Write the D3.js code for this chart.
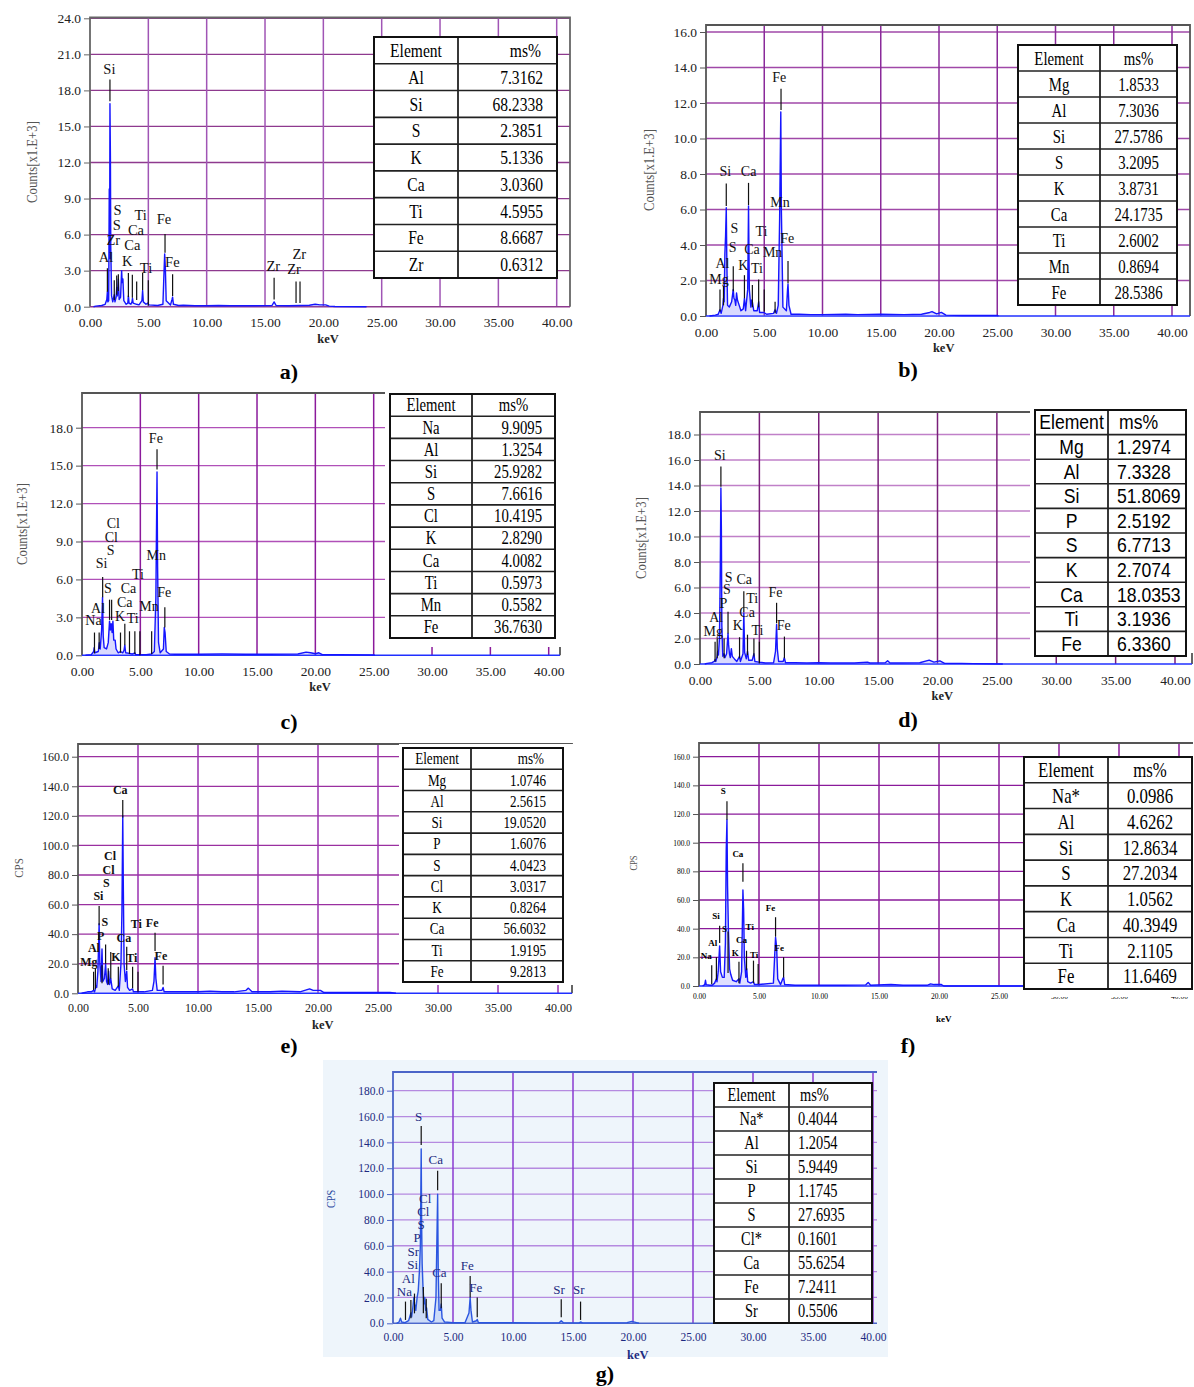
<!DOCTYPE html>
<html><head><meta charset="utf-8">
<script src="https://cdn.jsdelivr.net/npm/d3@7"></script>
<style>body{margin:0;background:#fff}svg{display:block}</style>
</head><body>
<svg id="c" width="1194" height="1387"></svg>
<script>
// ---------------- DATA ----------------
const xTicks = [0,5,10,15,20,25,30,35,40];

// Panel a (counts x1E+3)
const yTicksA = [0,3,6,9,12,15,18,21,24];
const specA = [[0.3,0],[0.5,0.05],[1.0,0.1],[1.3,0.2],[1.44,0.6],[1.49,1.25],[1.53,0.4],[1.6,0.5],[1.65,9.8],[1.68,4],[1.71,16.9],[1.75,12.4],[1.78,5],[1.85,0.9],[1.95,0.4],[2.08,1.0],[2.14,0.4],[2.24,0.8],[2.29,1.6],[2.35,0.9],[2.43,2.3],[2.5,0.6],[2.62,0.8],[2.71,3.0],[2.76,2.0],[2.82,2.3],[2.9,0.5],[3.1,0.2],[3.24,0.3],[3.29,0.9],[3.35,0.3],[3.5,0.2],[3.6,0.4],[3.64,0.7],[3.7,0.3],[4.0,0.2],[4.2,0.15],[4.45,0.5],[4.51,1.35],[4.57,0.4],[4.8,0.2],[4.95,0.3],[5.05,0.15],[5.8,0.1],[6.25,0.2],[6.33,2.5],[6.4,4.4],[6.46,3.2],[6.53,0.5],[6.9,0.15],[7.03,0.6],[7.08,0.8],[7.15,0.2],[7.6,0.1],[8.0,0.12],[9,0.08],[10,0.08],[11,0.1],[12,0.08],[14,0.08],[15.6,0.1],[15.78,0.4],[15.95,0.1],[17,0.08],[18,0.1],[18.8,0.12],[19.3,0.2],[19.7,0.15],[20.2,0.15],[20.5,0.05],[21,0.02],[23.7,0]];
const labelsA = [["Si",1.66,19.4],["S",2.37,7.6],["S",2.29,6.4],["Zr",2.0,5.1],["Ti",4.34,7.2],["Ca",3.94,6.0],["Ca",3.63,4.7],["Fe",6.34,6.9],["Al",1.37,3.7],["K",3.2,3.4],["Ti",4.8,2.8],["Fe",7.06,3.3],["Zr",15.71,3.0],["Zr",17.94,4.0],["Zr",17.49,2.7]];
const markersA = [[1.49,1.25,3.2],[1.71,17.1,18.9],[2.08,0.55,2.2],[2.29,1.0,2.6],[2.43,1.3,2.7],[3.29,0.8,2.8],[3.63,0.75,2.65],[4.0,0.55,2.1],[4.51,1.4,2.8],[5.0,0.1,2.2],[6.43,4.5,6.05],[7.08,0.9,2.7],[15.78,0.6,2.4],[17.66,0.3,2.1],[18.0,0.3,2.1]];
const elemsA = ["Al","Si","S","K","Ca","Ti","Fe","Zr"];
const valsA = ["7.3162","68.2338","2.3851","5.1336","3.0360","4.5955","8.6687","0.6312"];

// Panel b
const yTicksB = [0,2,4,6,8,10,12,14,16];
const specB = [[0.3,0],[0.8,0.05],[1.05,0.1],[1.2,0.35],[1.3,0.15],[1.45,0.6],[1.5,1.0],[1.56,0.8],[1.62,3.5],[1.68,4.5],[1.74,6.1],[1.79,3],[1.85,0.6],[2.0,0.5],[2.2,0.8],[2.34,1.5],[2.4,1.0],[2.48,0.9],[2.55,0.6],[2.62,1.3],[2.7,0.9],[2.85,0.6],[3.0,0.3],[3.2,0.4],[3.3,1.0],[3.4,0.3],[3.58,1.5],[3.65,6.2],[3.72,1.5],[3.85,0.5],[3.93,0.9],[3.98,0.8],[4.1,0.3],[4.4,0.3],[4.52,0.8],[4.6,0.2],[4.95,0.2],[5.2,0.1],[5.8,0.15],[5.93,0.35],[6.05,0.15],[6.2,0.6],[6.32,5.5],[6.42,11.5],[6.47,6.0],[6.53,3.5],[6.6,0.5],[6.9,0.3],[7.0,1.5],[7.04,1.8],[7.12,0.6],[7.3,0.1],[8,0.1],[9,0.08],[10,0.08],[12,0.1],[13,0.08],[15,0.1],[17,0.08],[18.5,0.1],[19.2,0.2],[19.4,0.25],[19.8,0.12],[20.2,0.2],[20.6,0.05],[22,0.03],[25.0,0.03],[25.1,0]];
const labelsB = [["Fe",6.29,13.2],["Si",1.65,7.9],["Ca",3.66,7.9],["Mn",6.35,6.15],["S",2.43,4.7],["Ti",4.76,4.5],["Fe",6.98,4.1],["S",2.28,3.6],["Ca",3.95,3.5],["Mn",5.72,3.3],["Al",1.41,2.7],["K",3.2,2.6],["Ti",4.37,2.45],["Mg",1.11,1.8]];
const markersB = [[6.44,11.6,12.8],[1.74,6.2,7.47],[3.65,6.25,7.5],[2.34,1.4,2.8],[3.3,1.0,2.3],[3.98,0.5,1.75],[4.52,0.5,2.06],[5.0,0.25,1.5],[5.93,0.15,0.8],[7.04,1.85,3.1],[1.2,0.25,1.5],[1.5,0.6,1.7]];
const elemsB = ["Mg","Al","Si","S","K","Ca","Ti","Mn","Fe"];
const valsB = ["1.8533","7.3036","27.5786","3.2095","3.8731","24.1735","2.6002","0.8694","28.5386"];

// Panel c
const yTicksC = [0,3,6,9,12,15,18];
const specC = [[0.3,0],[0.8,0.05],[1.0,0.3],[1.04,0.6],[1.1,0.2],[1.4,0.3],[1.48,1.0],[1.56,0.5],[1.68,2.0],[1.76,4.6],[1.82,1.5],[1.9,0.6],[2.1,0.5],[2.25,1.0],[2.36,2.7],[2.43,2.0],[2.5,2.5],[2.58,1.8],[2.65,2.7],[2.72,1.2],[2.84,1.2],[2.92,0.5],[3.1,0.2],[3.3,0.3],[3.5,0.2],[3.6,0.4],[3.67,0.8],[3.74,0.2],[4.05,0.15],[4.3,0.1],[4.53,0.2],[4.6,0.05],[5.5,0.05],[5.97,0.1],[6.2,0.3],[6.33,4.5],[6.43,14.5],[6.48,7.0],[6.56,1.0],[6.7,0.2],[6.98,0.5],[7.05,2.2],[7.12,1.8],[7.22,0.3],[7.5,0.1],[8,0.08],[10,0.08],[12,0.1],[14,0.08],[16,0.08],[18.5,0.1],[19.2,0.25],[19.6,0.2],[20.0,0.12],[20.3,0.2],[20.6,0.05],[22,0.05],[25,0.02],[25.1,0]];
const labelsC = [["Fe",6.33,16.8],["Cl",2.69,10.1],["Cl",2.51,9.0],["S",2.45,7.9],["Si",1.68,6.9],["Mn",6.36,7.5],["Ti",4.8,6.0],["S",2.23,4.9],["Ca",3.98,4.9],["Fe",7.04,4.64],["Al",1.38,3.37],["Ca",3.67,3.8],["Mn",5.75,3.53],["Na",0.98,2.4],["K",3.27,2.7],["Ti",4.35,2.53]];
const markersC = [[6.43,14.7,16.3],[1.77,4.6,6.2],[2.36,2.8,4.4],[2.54,2.8,4.4],[1.07,0.15,1.8],[1.47,0.5,1.8],[3.3,0.2,1.8],[3.67,0.8,2.5],[4.07,0.1,1.9],[4.53,0.1,1.9],[4.96,0,1.9],[5.97,0.1,1.9],[7.1,2.2,3.8]];
const elemsC = ["Na","Al","Si","S","Cl","K","Ca","Ti","Mn","Fe"];
const valsC = ["9.9095","1.3254","25.9282","7.6616","10.4195","2.8290","4.0082","0.5973","0.5582","36.7630"];

// Panel d
const yTicksD = [0,2,4,6,8,10,12,14,16,18];
const specD = [[0.4,0],[0.6,0.05],[1.0,0.1],[1.2,0.2],[1.27,0.35],[1.33,0.2],[1.45,0.6],[1.49,1.0],[1.55,0.7],[1.64,2.0],[1.71,7.6],[1.76,13.8],[1.8,10.6],[1.84,3],[1.92,0.6],[2.03,0.8],[2.1,0.5],[2.24,0.8],[2.36,2.4],[2.41,1.5],[2.48,0.8],[2.55,0.5],[2.64,1.2],[2.72,0.6],[2.9,0.4],[3.1,0.2],[3.33,0.6],[3.4,0.2],[3.62,0.8],[3.69,4.0],[3.76,0.9],[3.9,0.4],[4.0,1.0],[4.1,0.3],[4.4,0.3],[4.54,0.8],[4.62,0.2],[4.95,0.15],[5.5,0.08],[6.2,0.1],[6.36,1.0],[6.45,3.1],[6.51,1.2],[6.62,0.2],[7.0,0.2],[7.1,0.5],[7.2,0.1],[8,0.1],[9,0.08],[10,0.1],[11,0.08],[12,0.08],[13,0.08],[14.1,0.15],[14.3,0.08],[15.6,0.1],[15.8,0.25],[16.0,0.08],[17,0.08],[18.5,0.1],[19.3,0.3],[19.7,0.15],[20.2,0.25],[20.6,0.05],[22,0.05],[23,0.03],[25.5,0]];
const labelsD = [["Si",1.67,16.0],["S",2.42,6.47],["Ca",3.72,6.26],["S",2.27,5.48],["Ti",4.39,4.77],["Fe",6.36,5.29],["P",1.97,4.43],["Ca",3.97,3.67],["Al",1.36,3.33],["Fe",7.05,2.67],["K",3.18,2.67],["Mg",1.12,2.23],["Ti",4.84,2.28]];
const markersD = [[1.76,13.9,15.5],[6.45,3.2,4.8],[2.36,2.4,4.1],[3.69,4.06,5.7],[1.27,0.2,1.75],[1.45,0.45,2.0],[2.03,0.45,2.0],[3.33,0.45,2.1],[4.0,0.7,2.3],[4.54,0.58,2.0],[5.0,0.05,1.75],[7.11,0.45,2.15]];
const elemsD = ["Mg","Al","Si","P","S","K","Ca","Ti","Fe"];
const valsD = ["1.2974","7.3328","51.8069","2.5192","6.7713","2.7074","18.0353","3.1936","6.3360"];

// Panel e (CPS)
const yTicksE = [0,20,40,60,80,100,120,140,160];
const specE = [[0.3,0],[0.8,1],[1.1,1],[1.3,2],[1.38,1],[1.45,3],[1.5,5],[1.56,4],[1.66,15],[1.76,47],[1.82,20],[1.92,8],[2.0,30],[2.07,8],[2.2,10],[2.3,20],[2.38,8],[2.47,6],[2.55,15],[2.63,6],[2.73,10],[2.85,3],[3.1,2],[3.36,5],[3.44,2],[3.58,20],[3.66,55],[3.73,120],[3.78,70],[3.84,20],[3.95,8],[4.06,15],[4.13,4],[4.3,2],[4.55,3],[4.62,1],[4.95,1],[5.5,1],[6.2,2],[6.33,8],[6.42,24],[6.49,10],[6.6,2],[7.0,2],[7.09,4],[7.18,1],[8,1],[10,1],[11,1.5],[12,1],[13,1],[14,2],[14.2,3.5],[14.5,1],[16,1],[17,1.5],[18.5,1],[19.3,3],[19.6,2],[20.2,2],[20.5,0.5],[22,0.5],[26,0.5],[26.5,0]];
const labelsE = [["Ca",3.52,135],["Cl",2.67,90],["Cl",2.55,81],["S",2.36,72],["Si",1.7,63],["S",2.24,45.5],["Ti",4.85,44],["Fe",6.18,45],["P",1.88,36],["Ca",3.82,35],["Al",1.33,27.7],["Fe",6.91,22.5],["Mg",0.91,18.7],["K",3.15,21.9],["Ti",4.48,21.4]];
const markersE = [[3.73,118.8,130.7],[1.76,46,59],[6.42,28.6,41],[2.3,20,33],[1.3,2.2,14.6],[1.45,3,17],[2.0,6.8,19],[2.52,6,17],[2.73,10,28],[3.36,4.5,18],[4.06,15.8,31.5],[4.55,3.4,18],[5.0,1.1,14.6],[7.09,6,18.7]];
const elemsE = ["Mg","Al","Si","P","S","Cl","K","Ca","Ti","Fe"];
const valsE = ["1.0746","2.5615","19.0520","1.6076","4.0423","3.0317","0.8264","56.6032","1.9195","9.2813"];

// Panel f (CPS)
const yTicksF = [0,20,40,60,80,100,120,140,160];
const specF = [[0.3,0],[0.48,1],[0.54,4],[0.6,1],[0.9,0.5],[1.1,0.5],[1.3,2],[1.45,5],[1.5,3],[1.6,10],[1.72,28],[1.8,10],[1.95,6],[2.1,6],[2.2,30],[2.27,95],[2.33,116],[2.38,70],[2.45,40],[2.55,12],[2.65,8],[2.8,4],[3.1,3],[3.33,5],[3.4,2],[3.55,10],[3.66,67],[3.72,53],[3.78,20],[3.9,6],[3.98,12],[4.06,3],[4.3,2],[4.54,3],[4.62,1],[5.0,1],[6.2,2],[6.3,20],[6.38,34],[6.47,27],[6.56,5],[6.8,1],[6.98,5],[7.05,6],[7.14,1],[8,0.5],[10,0.5],[12,0.5],[13.9,0.8],[14.1,2.5],[14.3,0.5],[16,1],[17,0.5],[19,0.5],[19.3,1.5],[19.6,1],[20.2,1],[20.4,0],[27,0]];
const labelsF = [["S",2.03,134],["Ca",3.24,90],["Si",1.42,47],["S",2.12,38],["Ti",4.23,39],["Fe",5.96,52],["Al",1.15,28],["Ca",3.54,30],["Fe",6.68,24.4],["K",3.02,21],["Ti",4.6,19.3],["Na",0.6,18.6]];
const markersF = [[2.33,116,129],[3.66,72.8,85.6],[6.38,34.4,48],[1.72,30,42],[2.42,9,38],[1.06,1.2,14.4],[1.45,4.2,20],[3.33,2,17],[3.96,11,24.6],[4.54,2,17.7],[4.93,1.4,15.3],[7.05,6,20]];
const elemsF = ["Na*","Al","Si","S","K","Ca","Ti","Fe"];
const valsF = ["0.0986","4.6262","12.8634","27.2034","1.0562","40.3949","2.1105","11.6469"];

// Panel g (CPS)
const yTicksG = [0,20,40,60,80,100,120,140,160,180];
const specG = [[0.3,0],[0.5,1],[0.62,4],[0.72,1],[1.0,0.5],[1.3,2],[1.49,8],[1.55,5],[1.65,12],[1.74,20],[1.8,15],[1.9,10],[2.01,20],[2.1,25],[2.2,40],[2.28,60],[2.35,135],[2.39,75],[2.43,46],[2.5,28],[2.58,15],[2.65,20],[2.72,10],[2.8,12],[2.9,3],[3.2,1],[3.4,2],[3.58,20],[3.65,60],[3.72,100],[3.77,40],[3.84,10],[3.95,10],[4.02,15],[4.09,4],[4.3,1],[5,0.5],[6,0.5],[6.33,8],[6.43,20],[6.5,10],[6.62,1],[6.96,2],[7.02,3],[7.12,0.5],[8,0.5],[10,0.5],[12,0.3],[13.85,0.5],[14.02,2],[14.2,0.5],[15.5,0.3],[15.63,1],[15.8,0.3],[19.5,0.5],[19.9,1.5],[20.3,0.5],[20.5,0]];
const labelsG = [["S",2.14,156.5],["Ca",3.57,123],["Cl",2.68,93],["Cl",2.53,83],["S",2.35,73],["P",2.02,63],["Sr",1.7,52],["Si",1.64,42],["Fe",6.19,41],["Ca",3.87,36],["Al",1.28,31],["Fe",6.9,24],["Na",0.95,21],["Sr",13.84,23],["Sr",15.48,22.5]];
const markersG = [[2.35,138,152.7],[3.72,103,118],[6.43,20,36.6],[1.04,2.6,16.8],[1.49,3.9,18],[1.79,7.7,23],[2.53,7.7,28],[2.77,3.9,19],[4.02,11.6,31],[7.02,4.6,20],[14.02,4.6,18.6],[15.63,2.6,16.8]];
const elemsG = ["Na*","Al","Si","P","S","Cl*","Ca","Fe","Sr"];
const valsG = ["0.4044","1.2054","5.9449","1.1745","27.6935","0.1601","55.6254","7.2411","0.5506"];

// ---------------- LAYOUT ----------------
const SERIF = "'Liberation Serif','Times New Roman',serif";
const SANS = "'Liberation Sans',Arial,sans-serif";
const layouts = [
 {id:"a", x0:90, x40:556.7, xR:570, y0:306.7, yRef:24, yRefPx:18.3, top:17.5, title:"Counts[x1.E+3]", titleX:32, titleY:162, titleFs:15,
  sub:"a)", subX:289, subY:379, hGrid:"#8e3a8e", vGrid:"#a055b5", frame:"#666", base:"#8e3a8e", right:true,
  tickFs:13.5, tickColor:"#222", xPad:11, labFs:14.5, labW:"normal", labColor:"#111", specColor:"#1515ff", fillSpec:"#8080ff", fillOp:0.15,
  tbl:{x:374,y:37,w:183,h:241,col:458,fs:19,sx:0.82,font:SERIF,valAlign:"end",valPad:14,hdrAlign:"end"}},
 {id:"b", x0:706, x40:1172, xR:1190, y0:316, yRef:16, yRefPx:32, top:25, title:"Counts[x1.E+3]", titleX:649, titleY:170, titleFs:15,
  sub:"b)", subX:908, subY:377, hGrid:"#a048a8", vGrid:"#8a2a9a", frame:"#555", base:"#2030ff", right:true,
  tickFs:13.5, tickColor:"#222", xPad:11, labFs:14, labW:"normal", labColor:"#111", specColor:"#1515ff", fillSpec:"#8080ff", fillOp:0.3,
  tbl:{x:1018,y:45,w:159,h:260,col:1100,fs:19,sx:0.78,font:SERIF,valAlign:"middle",valPad:0,hdrAlign:"middle"}},
 {id:"c", x0:82, x40:548.7, xR:560, y0:655.3, yRef:18, yRefPx:427.7, top:393, title:"Counts[x1.E+3]", titleX:22, titleY:524, titleFs:15,
  sub:"c)", subX:289, subY:729, hGrid:"#b050b8", vGrid:"#8b1a9b", frame:"#555", base:"#2030ff", right:true,
  mask:[385,391,178,256],
  tickFs:13.5, tickColor:"#222", xPad:11, labFs:14, labW:"normal", labColor:"#111", specColor:"#1515ff", fillSpec:"#8080ff", fillOp:0.3,
  tbl:{x:390,y:394,w:165,h:244,col:472,fs:18,sx:0.82,font:SERIF,valAlign:"end",valPad:13,hdrAlign:"middle"}},
 {id:"d", x0:700, x40:1175, xR:1192, y0:664, yRef:18, yRefPx:434.5, top:412, title:"Counts[x1.E+3]", titleX:641, titleY:538, titleFs:15,
  sub:"d)", subX:908, subY:727, hGrid:"#c080c8", vGrid:"#7a1f7a", frame:"#555", base:"#2030ff", right:true,
  mask:[1030,405,164,248],
  tickFs:13.5, tickColor:"#222", xPad:11, labFs:14, labW:"normal", labColor:"#111", specColor:"#1515ff", fillSpec:"#8080ff", fillOp:0.3,
  tbl:{x:1035,y:410,w:151,h:246,col:1108,fs:20,sx:0.88,font:SANS,valAlign:"start",valPad:9,hdrAlign:"start"}},
 {id:"e", x0:78, x40:558, xR:572, y0:993.3, yRef:160, yRefPx:756.7, top:744, title:"CPS", titleX:19, titleY:868, titleFs:13,
  sub:"e)", subX:289, subY:1053, hGrid:"#9a30a0", vGrid:"#9a30b0", frame:"#555", base:"#2030ff", right:true,
  mask:[399,744,174,241],
  tickFs:12, tickColor:"#222", xPad:10, labFs:12, labW:"bold", labColor:"#111", specColor:"#1515ff", fillSpec:"#8080ff", fillOp:0.2,
  tbl:{x:403,y:748,w:160,h:234,col:471,fs:16,sx:0.82,font:SERIF,valAlign:"end",valPad:17,hdrAlign:"end"}},
 {id:"f", x0:699, x40:1179, xR:1193, y0:986, yRef:160, yRefPx:756.7, top:743, title:"CPS", titleX:634, titleY:863, titleFs:10,
  sub:"f)", subX:908, subY:1053, hGrid:"#8a1a9a", vGrid:"#8a1a9a", frame:"#555", base:"#2030ff", right:false,
  mask2:[1020,990,174,7],
  tickFs:7.5, tickColor:"#000", xPad:8, labFs:9, labW:"bold", labColor:"#000", specColor:"#1515ff", fillSpec:"#8080ff", fillOp:0.25,
  tbl:{x:1024,y:757,w:168,h:232,col:1108,fs:21,sx:0.8,font:SERIF,valAlign:"middle",valPad:0,hdrAlign:"middle"}},
 {id:"g", x0:393, x40:873, xR:877, y0:1323.3, yRef:180, yRefPx:1090.7, top:1072, title:"CPS", titleX:331, titleY:1199, titleFs:12,
  sub:"g)", subX:605, subY:1381, hGrid:"#b58ae0", vGrid:"#8a3ad0", frame:"#4a64c8", base:"#4a64c8", right:false,
  bg:[323,1060,565,297,"#eef5fb"],
  tickFs:11.5, tickColor:"#1c2a80", xPad:10, labFs:13, labW:"normal", labColor:"#1c2a80", specColor:"#2a55e0", fillSpec:"#7fa0f0", fillOp:0.3,
  tbl:{x:714,y:1083,w:158,h:240,col:789,fs:18,sx:0.8,font:SERIF,valAlign:"start",valPad:9,hdrAlign:"start"}}
];
const panelData = {
 a:{yTicks:yTicksA, spec:specA, labels:labelsA, markers:markersA, elems:elemsA, vals:valsA},
 b:{yTicks:yTicksB, spec:specB, labels:labelsB, markers:markersB, elems:elemsB, vals:valsB},
 c:{yTicks:yTicksC, spec:specC, labels:labelsC, markers:markersC, elems:elemsC, vals:valsC},
 d:{yTicks:yTicksD, spec:specD, labels:labelsD, markers:markersD, elems:elemsD, vals:valsD},
 e:{yTicks:yTicksE, spec:specE, labels:labelsE, markers:markersE, elems:elemsE, vals:valsE},
 f:{yTicks:yTicksF, spec:specF, labels:labelsF, markers:markersF, elems:elemsF, vals:valsF},
 g:{yTicks:yTicksG, spec:specG, labels:labelsG, markers:markersG, elems:elemsG, vals:valsG}
};

// ---------------- DRAW ----------------
const svg = d3.select("#c");
svg.append("rect").attr("width",1194).attr("height",1387).attr("fill","#fff");

function condText(g, x, y, txt, fs, font, sx, anchor, fill, weight){
  return g.append("text").attr("transform",`translate(${x},${y}) scale(${sx},1)`)
    .attr("text-anchor",anchor).attr("font-family",font).attr("font-size",fs)
    .attr("fill",fill||"#000").attr("font-weight",weight||"normal").text(txt);
}

function drawTable(g, T, elems, vals){
  const rows = elems.length + 1;
  const rh = T.h / rows;
  g.append("rect").attr("x",T.x).attr("y",T.y).attr("width",T.w).attr("height",T.h).attr("fill","#fff");
  const xr = T.x + T.w;
  function cellX(align, pad){
    if(align==="end") return xr - pad;
    if(align==="start") return T.col + pad;
    return (T.col + xr)/2;
  }
  const ex = (T.x + T.col)/2;
  const all = [["Element","ms%"]].concat(elems.map((e,i)=>[e, vals[i]]));
  all.forEach((r,i)=>{
    const by = T.y + rh*i + rh/2 + T.fs*0.35;
    condText(g, ex, by, r[0], T.fs, T.font, T.sx, "middle", "#000");
    const al = i===0 ? T.hdrAlign : T.valAlign;
    condText(g, cellX(al, i===0 ? T.valPad+2 : T.valPad), by, r[1], T.fs, T.font, T.sx, al, "#000");
  });
  for(let i=1;i<rows;i++){
    g.append("line").attr("x1",T.x).attr("x2",xr).attr("y1",T.y+rh*i).attr("y2",T.y+rh*i)
      .attr("stroke","#222").attr("stroke-width",1.6);
  }
  g.append("line").attr("x1",T.col).attr("x2",T.col).attr("y1",T.y).attr("y2",T.y+T.h).attr("stroke","#222").attr("stroke-width",1.8);
  g.append("rect").attr("x",T.x).attr("y",T.y).attr("width",T.w).attr("height",T.h)
    .attr("fill","none").attr("stroke","#111").attr("stroke-width",2);
}

function drawPanel(L, D){
  const g = svg.append("g").attr("class","panel-"+L.id);
  const x = d3.scaleLinear().domain([0,40]).range([L.x0, L.x40]);
  const y = d3.scaleLinear().domain([0, L.yRef]).range([L.y0, L.yRefPx]);

  if(L.bg) g.append("rect").attr("x",L.bg[0]).attr("y",L.bg[1]).attr("width",L.bg[2]).attr("height",L.bg[3]).attr("fill",L.bg[4]);

  // grid
  g.append("g").selectAll("line").data(D.yTicks.filter(v=>v>0)).join("line")
    .attr("x1",L.x0).attr("x2",L.xR).attr("y1",d=>y(d)).attr("y2",d=>y(d))
    .attr("stroke",L.hGrid).attr("stroke-width",1.3);
  g.append("g").selectAll("line").data(xTicks.filter(v=>v>0)).join("line")
    .attr("x1",d=>x(d)).attr("x2",d=>x(d)).attr("y1",L.top).attr("y2",L.y0)
    .attr("stroke",L.vGrid).attr("stroke-width",1.5);

  // frame
  g.append("path").attr("d",`M${L.x0},${L.y0}V${L.top}H${L.xR}`+(L.right?`V${L.y0}`:""))
    .attr("fill","none").attr("stroke",L.frame).attr("stroke-width",1.8);
  g.append("line").attr("x1",L.x0).attr("x2",L.xR).attr("y1",L.y0).attr("y2",L.y0)
    .attr("stroke",L.base).attr("stroke-width",1.6);

  // axes
  const ya = g.append("g").attr("transform",`translate(${L.x0},0)`)
    .call(d3.axisLeft(y).tickValues(D.yTicks).tickFormat(d3.format(".1f")).tickSize(6).tickPadding(3));
  ya.select(".domain").remove();
  ya.selectAll("line").attr("stroke",L.frame);
  ya.selectAll("text").attr("font-family",SERIF).attr("font-size",L.tickFs).attr("fill",L.tickColor);
  const xa = g.append("g").attr("transform",`translate(0,${L.y0})`)
    .call(d3.axisBottom(x).tickValues(xTicks).tickFormat(d3.format(".2f")).tickSize(0).tickPadding(L.xPad));
  xa.select(".domain").remove();
  xa.selectAll("text").attr("font-family",SERIF).attr("font-size",L.tickFs).attr("fill",L.tickColor);

  // spectrum
  const area = d3.area().x(d=>x(d[0])).y0(L.y0).y1(d=>y(d[1]));
  const line = d3.line().x(d=>x(d[0])).y(d=>y(d[1]));
  g.append("path").datum(D.spec).attr("d",area).attr("fill",L.fillSpec).attr("opacity",L.fillOp);
  g.append("path").datum(D.spec).attr("d",line).attr("fill","none").attr("stroke",L.specColor).attr("stroke-width",1.4).attr("stroke-linejoin","round");

  // mask where table hides the grid
  if(L.mask) g.append("rect").attr("x",L.mask[0]).attr("y",L.mask[1]).attr("width",L.mask[2]).attr("height",L.mask[3]).attr("fill","#fff");

  // peak markers
  g.append("g").selectAll("line").data(D.markers).join("line")
    .attr("x1",d=>x(d[0])).attr("x2",d=>x(d[0])).attr("y1",d=>y(d[1])).attr("y2",d=>y(d[2]))
    .attr("stroke","#111").attr("stroke-width",1.2);
  // labels
  g.append("g").selectAll("text").data(D.labels).join("text")
    .attr("x",d=>x(d[1])).attr("y",d=>y(d[2])).attr("text-anchor","middle")
    .attr("font-family",SERIF).attr("font-size",L.labFs).attr("fill",L.labColor)
    .attr("font-weight", L.labW).text(d=>d[0]);

  // table
  drawTable(g, L.tbl, D.elems, D.vals);
  if(L.mask2) g.append("rect").attr("x",L.mask2[0]).attr("y",L.mask2[1]).attr("width",L.mask2[2]).attr("height",L.mask2[3]).attr("fill","#fff");

  // axis titles
  g.append("text").attr("transform",`translate(${x(20.4)},${L.y0+36})`)
    .attr("text-anchor","middle").attr("font-family",SERIF).attr("font-weight","bold")
    .attr("font-size", L.id==="f"?9:12.5).attr("fill",L.tickColor).text("keV");
  g.append("text").attr("transform",`translate(${L.titleX},${L.titleY}) rotate(-90) scale(0.85,1)`)
    .attr("text-anchor","middle").attr("dominant-baseline","central").attr("font-family",SERIF)
    .attr("font-size",L.titleFs).attr("fill", L.id==="g" ? "#2a4aa0" : "#555").text(L.title);
  g.append("text").attr("x",L.subX).attr("y",L.subY).attr("text-anchor","middle")
    .attr("font-family",SERIF).attr("font-weight","bold").attr("font-size",22).attr("fill","#000").text(L.sub);
}

layouts.forEach(L => drawPanel(L, panelData[L.id]));
</script>
</body></html>
